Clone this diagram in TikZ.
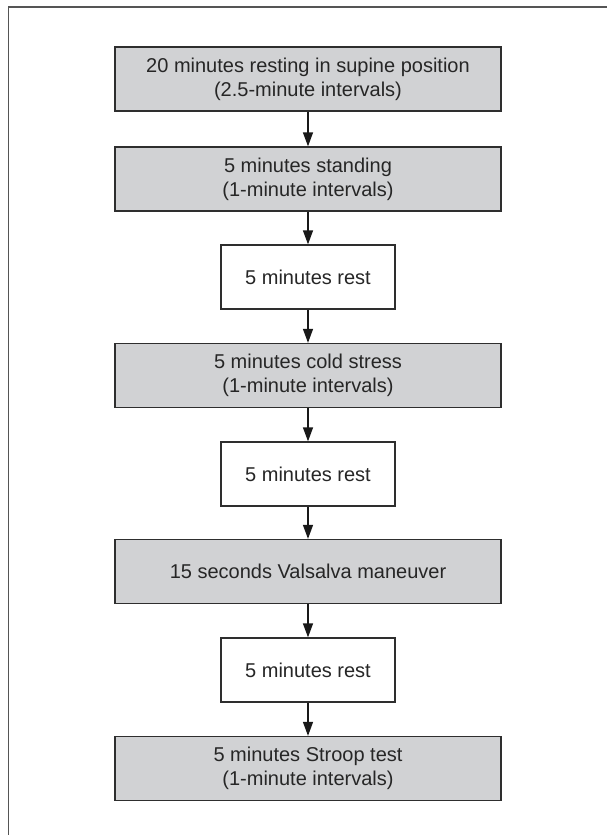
\documentclass[tikz,border=0pt]{standalone}
\usepackage{fontspec}
\setmainfont{Liberation Sans}
\usetikzlibrary{arrows.meta}
\definecolor{boxgray}{HTML}{D1D2D4}
\definecolor{edgegray}{HTML}{2E2E2E}
\definecolor{framegray}{HTML}{555555}
\tikzset{
  graybox/.style={draw=edgegray, line width=1.3pt, fill=boxgray, minimum width=386pt, minimum height=64pt, inner sep=0pt, align=center, font=\fontsize{20pt}{24pt}\selectfont, text=black!85},
  whitebox/.style={graybox, fill=white, minimum width=174pt},
  flowarrow/.style={draw=black!90, line width=1.4pt, -{Triangle[width=10pt,length=14pt]}}
}
\begin{document}
\begin{tikzpicture}[x=1pt,y=-1pt]
\useasboundingbox (0,0) rectangle (607,835);
\coordinate (ftop) at (8.5,7);
\coordinate (fright) at (607,7);
\coordinate (fbottom) at (8.5,835);
\draw[framegray, line width=1.6pt] (fbottom) -- (ftop) -- (fright);
\node[graybox] (b1) at (308,79) {20 minutes resting in supine position\\(2.5-minute intervals)};
\node[graybox] (b2) at (308,179) {5 minutes standing\\(1-minute intervals)};
\node[whitebox] (b3) at (308,277) {5 minutes rest};
\node[graybox] (b4) at (308,375.5) {5 minutes cold stress\\(1-minute intervals)};
\node[whitebox] (b5) at (308,474) {5 minutes rest};
\node[graybox] (b6) at (308,571.5) {15 seconds Valsalva maneuver};
\node[whitebox] (b7) at (308,670) {5 minutes rest};
\node[graybox] (b8) at (308,768.5) {5 minutes Stroop test\\(1-minute intervals)};
\foreach \a/\b in {b1/b2,b2/b3,b3/b4,b4/b5,b5/b6,b6/b7,b7/b8}
  \draw[flowarrow] (\a.south) -- (\b.north);
\end{tikzpicture}
\end{document}
